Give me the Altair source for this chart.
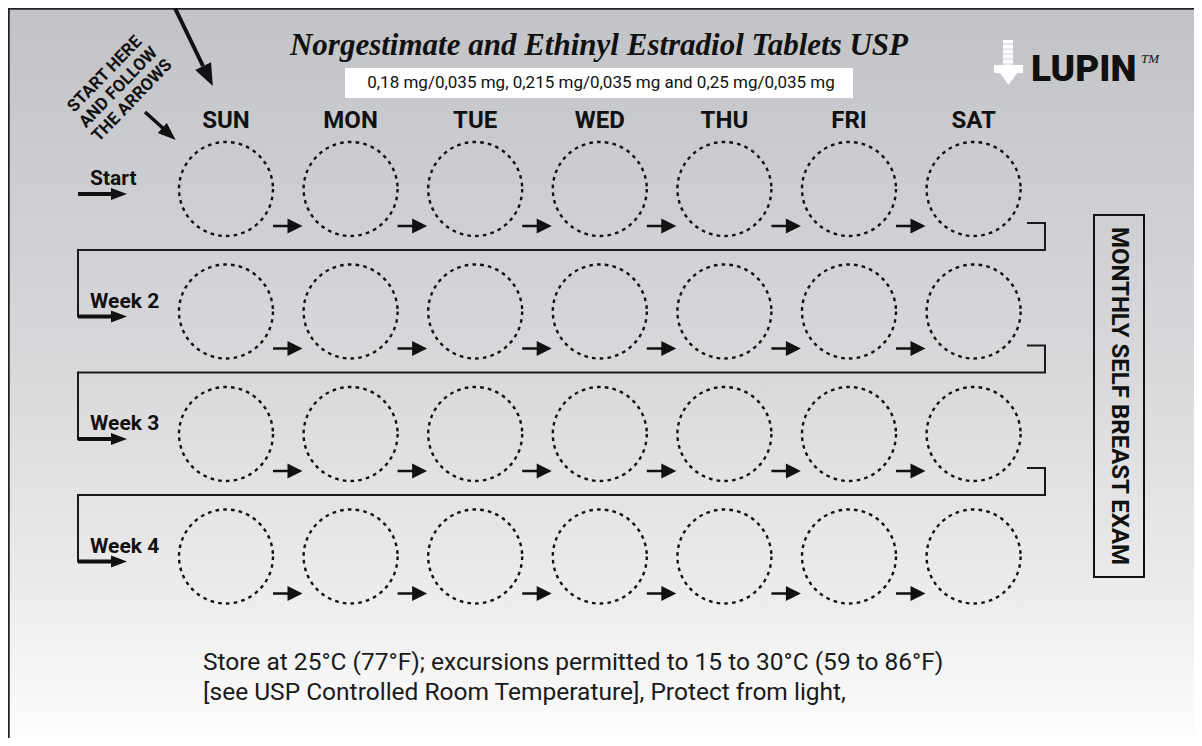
import altair as alt
import pandas as pd

# ---- content ----
days = ["SUN", "MON", "TUE", "WED", "THU", "FRI", "SAT"]
weeks = ["Start", "Week 2", "Week 3", "Week 4"]
title_text = "Norgestimate and Ethinyl Estradiol Tablets USP"
subtitle_text = "0,18 mg/0,035 mg, 0,215 mg/0,035 mg and 0,25 mg/0,035 mg"
side_label = "MONTHLY SELF BREAST EXAM"
start_note = ["START HERE", "AND FOLLOW", "THE ARROWS"]
storage_lines = [
    "Store at 25°C (77°F); excursions permitted to 15 to 30°C (59 to 86°F)",
    "[see USP Controlled Room Temperature], Protect from light,",
]
brand = "LUPIN"
brand_mark = "TM"

# ---- layout (page pixels) ----
X0, DX = 226, 124.6      # first column centre, column pitch
Y0, DY = 189, 122.5      # first row centre, row pitch
DIAM = 94
INK = "#111111"
SANS = "Roboto, Liberation Sans"
SERIF = "Liberation Serif, DejaVu Serif"

xs = alt.Scale(domain=[8, 1194], nice=False, zero=False)
ys = alt.Scale(domain=[8, 738], nice=False, zero=False, reverse=True)


def X(f="x"):
    return alt.X(f"{f}:Q", scale=xs, axis=None)


def Y(f="y"):
    return alt.Y(f"{f}:Q", scale=ys, axis=None)


def col_x(c):
    return X0 + c * DX


def row_y(r):
    return Y0 + r * DY


# background with gradient
bg = alt.Chart(pd.DataFrame({"x": [8], "x2": [1194], "y": [8], "y2": [738]})).mark_rect(
    fill=alt.LinearGradient(
        gradient="linear", x1=0, x2=0, y1=0, y2=1,
        stops=[
            alt.GradientStop(color="#c2c3c7", offset=0),
            alt.GradientStop(color="#d9d9dc", offset=0.5),
            alt.GradientStop(color="#ececed", offset=0.8),
            alt.GradientStop(color="#fdfdfd", offset=1),
        ],
    )
).encode(x=X(), x2="x2:Q", y=Y(), y2="y2:Q")

# outer border (top and left)
border = alt.Chart(pd.DataFrame({
    "x": [8, 8.5], "x2": [1194, 8.5], "y": [8.5, 8], "y2": [8.5, 738]
})).mark_rule(color="#222222", strokeWidth=2.5).encode(x=X(), x2="x2:Q", y=Y(), y2="y2:Q")

# dashed tablet circles
cells = pd.DataFrame([
    {"day": d, "week": w, "x": col_x(c), "y": row_y(r)}
    for r, w in enumerate(weeks) for c, d in enumerate(days)
])
circles = alt.Chart(cells).mark_point(
    shape="circle", filled=False, size=DIAM * DIAM, strokeWidth=2.4,
    strokeDash=[3.6, 4.2], color=INK, opacity=1,
).encode(x=X(), y=Y())

# day labels
day_df = pd.DataFrame({"t": days, "x": [col_x(c) for c in range(7)], "y": [128] * 7})
day_text = alt.Chart(day_df).mark_text(
    font=SANS, fontWeight="bold", fontSize=24, color=INK, align="center", baseline="alphabetic"
).encode(x=X(), y=Y(), text="t:N")

# week labels
wk_df = pd.DataFrame({"t": weeks, "x": [90] * 4, "y": [row_y(r) - 4 for r in range(4)]})
wk_text = alt.Chart(wk_df).mark_text(
    font=SANS, fontWeight="bold", fontSize=21, color=INK, align="left", baseline="alphabetic"
).encode(x=X(), y=Y(), text="t:N")

# arrows between tablets: shafts
shafts = []
heads = []
for r in range(4):
    for c in range(6):
        cx, cy = col_x(c), row_y(r)
        shafts.append({"x": cx + 47, "x2": cx + 63, "y": cy + 37, "y2": cy + 37, "w": 2.5})
        heads.append({"x": cx + 69, "y": cy + 37, "sz": 15 * 15, "ang": 0, "shp": "M-1,-1L1,0L-1,1Z"})

# week start arrows (thick)
for r in range(4):
    ay = row_y(r) + 5
    shafts.append({"x": 78, "x2": 113, "y": ay, "y2": ay, "w": 4})
    heads.append({"x": 119, "y": ay, "sz": 16 * 16, "ang": 0, "shp": "M-1,-0.75L1,0L-1,0.75Z"})

# diagonal arrows
shafts.append({"x": 174.9, "x2": 203, "y": 8, "y2": 66, "w": 4})
heads.append({"x": 208, "y": 76, "sz": 22 * 22, "ang": 64, "shp": "M-1,-0.8L1,0L-1,0.8Z"})
shafts.append({"x": 145, "x2": 165, "y": 112, "y2": 130, "w": 3.5})
heads.append({"x": 169, "y": 134, "sz": 18 * 18, "ang": 42, "shp": "M-1,-0.75L1,0L-1,0.75Z"})

shaft_layer = alt.Chart(pd.DataFrame(shafts)).mark_rule(color=INK).encode(
    x=X(), x2="x2:Q", y=Y(), y2="y2:Q", strokeWidth=alt.StrokeWidth("w:Q", scale=None)
)
head_layer = alt.Chart(pd.DataFrame(heads)).mark_point(filled=True, color=INK, opacity=1).encode(
    x=X(), y=Y(),
    size=alt.Size("sz:Q", scale=None),
    angle=alt.Angle("ang:Q", scale=None),
    shape=alt.Shape("shp:N", scale=None),
)

# snake connector lines from end of each row to start of the next
snake = []
for r in range(3):
    c, n = row_y(r), row_y(r + 1)
    pts = [(1027, c + 34), (1045, c + 34), (1045, c + 61), (78, c + 61), (78, n + 5), (90, n + 5)]
    for i, (px, py) in enumerate(pts):
        snake.append({"seg": r, "o": i, "x": px, "y": py})
snake_layer = alt.Chart(pd.DataFrame(snake)).mark_line(
    color="#1a1a1a", strokeWidth=2, strokeJoin="miter"
).encode(x=X(), y=Y(), detail="seg:N", order="o:Q")

# start note (rotated), one line each, stacked perpendicular to the text direction
NOTE_CX, NOTE_CY, NOTE_STEP = 118.5, 87.5, 19.0
note_df = pd.DataFrame({
    "t": start_note,
    "x": [NOTE_CX + (i - 1) * NOTE_STEP * 0.7193 for i in range(3)],
    "y": [NOTE_CY + (i - 1) * NOTE_STEP * 0.6947 for i in range(3)],
})
note = alt.Chart(note_df).mark_text(
    font=SANS, fontWeight="bold", fontSize=17,
    angle=314, align="center", baseline="middle", color=INK,
).encode(x=X(), y=Y(), text="t:N")

# title + subtitle
title = alt.Chart(pd.DataFrame({"t": [title_text], "x": [599], "y": [55]})).mark_text(
    font=SERIF, fontWeight="bold", fontStyle="italic", fontSize=31, color=INK,
    align="center", baseline="alphabetic",
).encode(x=X(), y=Y(), text="t:N")

sub_box = alt.Chart(pd.DataFrame({"x": [345], "x2": [853], "y": [68], "y2": [98]})).mark_rect(
    fill="white"
).encode(x=X(), x2="x2:Q", y=Y(), y2="y2:Q")
sub_text = alt.Chart(pd.DataFrame({"t": [subtitle_text], "x": [601], "y": [83]})).mark_text(
    font=SANS, fontSize=17, color=INK, align="center", baseline="middle"
).encode(x=X(), y=Y(), text="t:N")

# brand logo
logo_rects = alt.Chart(pd.DataFrame({
    "x": [1003, 994], "x2": [1013, 1023], "y": [40, 65], "y2": [66, 73]
})).mark_rect(fill="white").encode(x=X(), x2="x2:Q", y=Y(), y2="y2:Q")
logo_lines = alt.Chart(pd.DataFrame({
    "x": [1003] * 5, "x2": [1013] * 5, "y": [44, 49, 54, 59, 64]
})).mark_rule(color="#cfd0d3", strokeWidth=1).encode(x=X(), x2="x2:Q", y=Y())
logo_tip = alt.Chart(pd.DataFrame({"x": [1008.5], "y": [79]})).mark_point(
    filled=True, color="white", opacity=1, size=17 * 17, shape="M-1,-0.7L1,-0.7L0,0.7Z"
).encode(x=X(), y=Y())
brand_text = alt.Chart(pd.DataFrame({"t": [brand], "x": [1031], "y": [81]})).mark_text(
    font=SANS, fontWeight=900, fontSize=37, color=INK, align="left", baseline="alphabetic"
).encode(x=X(), y=Y(), text="t:N")
tm_text = alt.Chart(pd.DataFrame({"t": [brand_mark], "x": [1141], "y": [63]})).mark_text(
    font=SERIF, fontStyle="italic", fontSize=13, color=INK, align="left", baseline="alphabetic"
).encode(x=X(), y=Y(), text="t:N")

# side label box
side_box = alt.Chart(pd.DataFrame({"x": [1094], "x2": [1144], "y": [215], "y2": [577]})).mark_rect(
    fillOpacity=0, stroke=INK, strokeWidth=2
).encode(x=X(), x2="x2:Q", y=Y(), y2="y2:Q")
side_text = alt.Chart(pd.DataFrame({"t": [side_label], "x": [1119], "y": [396]})).mark_text(
    font=SANS, fontWeight="bold", fontSize=24, color=INK, angle=90,
    align="center", baseline="middle",
).encode(x=X(), y=Y(), text="t:N")

# storage text
store_df = pd.DataFrame({"t": storage_lines, "x": [203, 203], "y": [670, 700]})
store_text = alt.Chart(store_df).mark_text(
    font=SANS, fontSize=24.5, color="#1a1a1a", align="left", baseline="alphabetic"
).encode(x=X(), y=Y(), text="t:N")

chart = alt.layer(
    bg, border, snake_layer, circles, shaft_layer, head_layer, day_text, wk_text, note,
    title, sub_box, sub_text, logo_rects, logo_lines, logo_tip, brand_text, tm_text,
    side_box, side_text, store_text,
).properties(
    width=1186, height=730, padding=0, autosize=alt.AutoSizeParams(type="none")
).configure_view(strokeWidth=0)

chart.save("out.html", embed_options={"renderer": "svg", "actions": False})
